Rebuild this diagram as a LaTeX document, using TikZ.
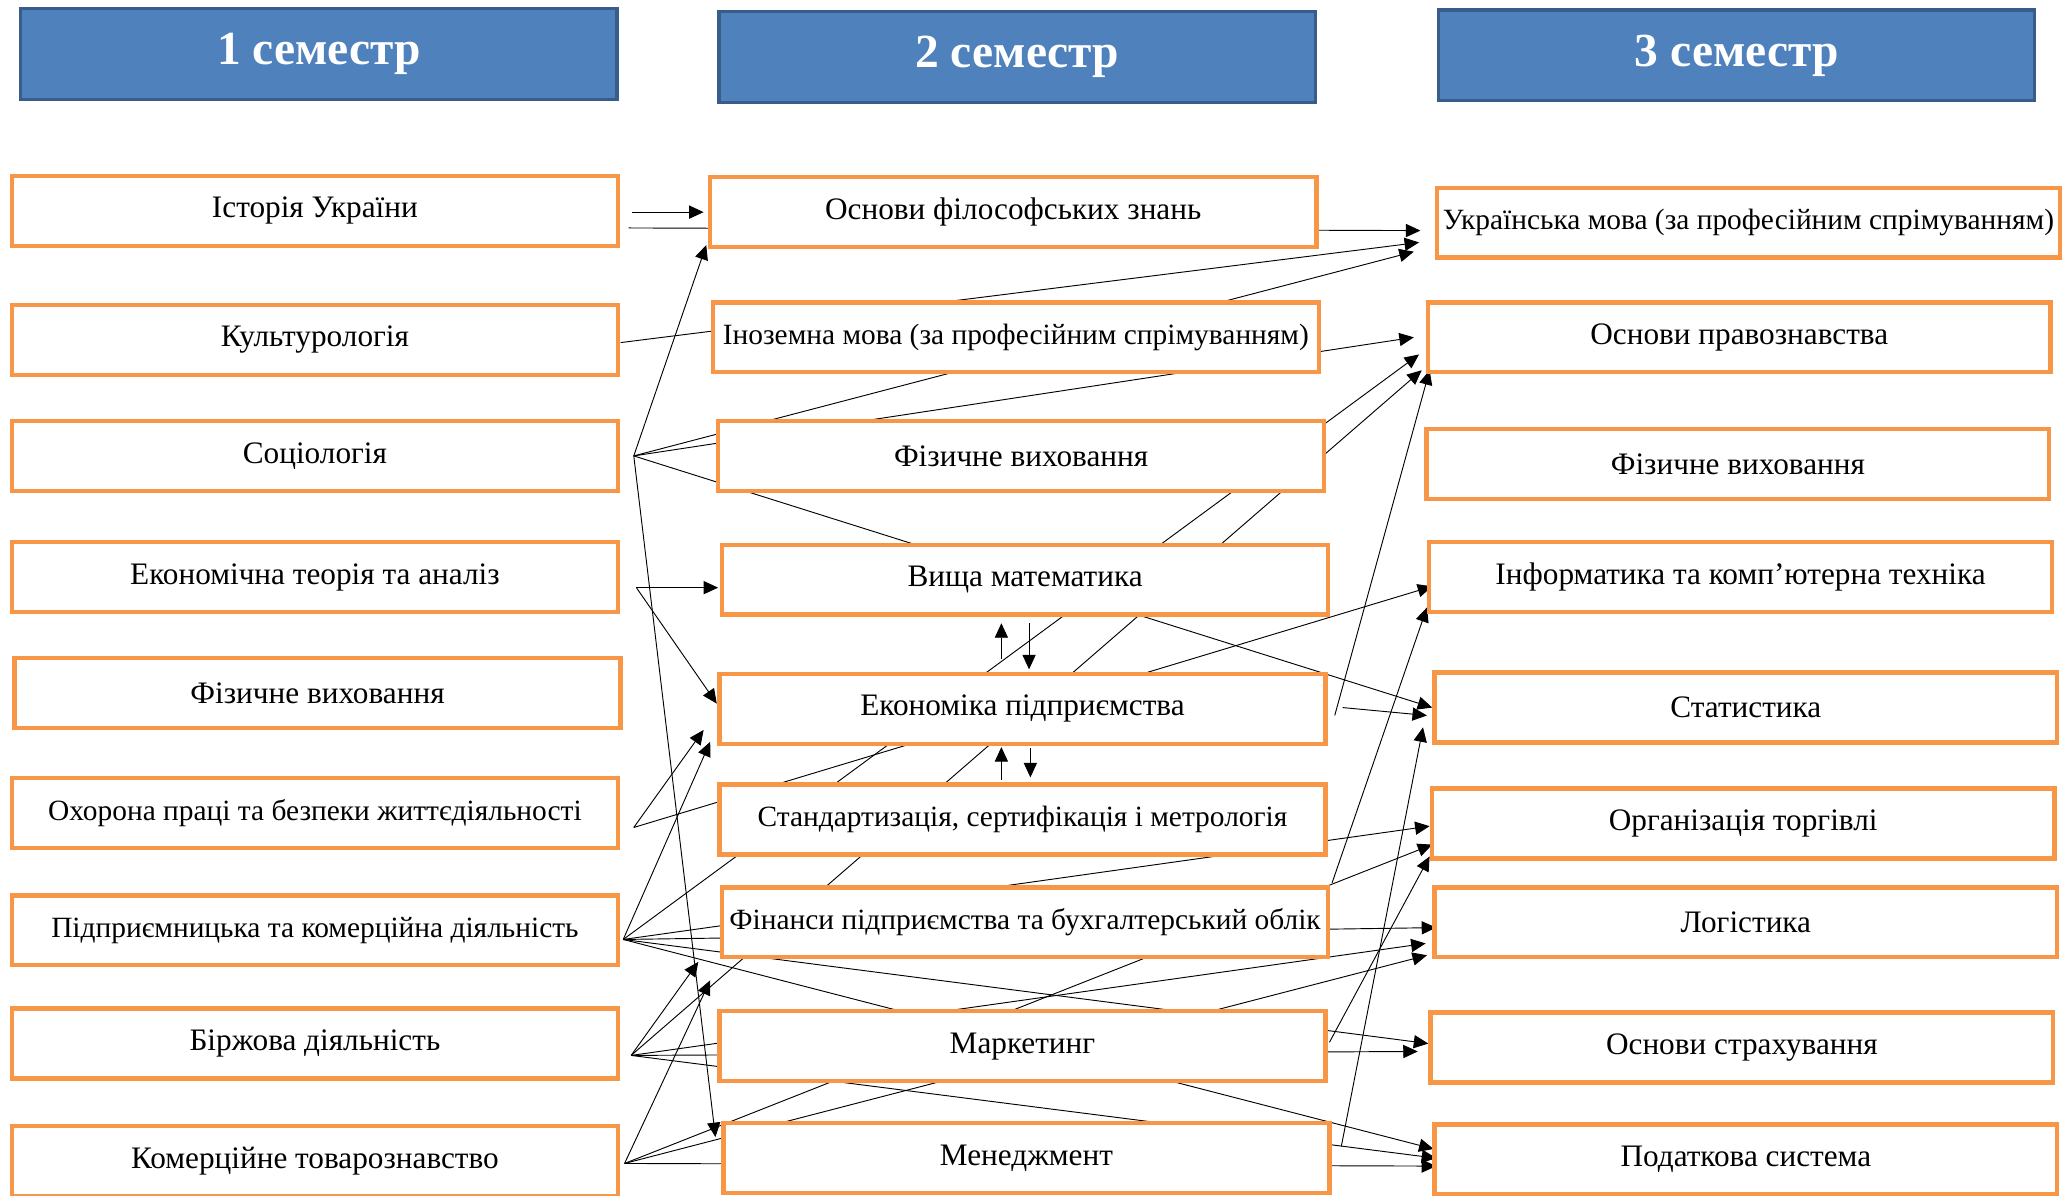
\documentclass[tikz,border=0pt]{standalone}
\usepackage{fontspec}
\setmainfont{Liberation Serif}
\usetikzlibrary{arrows.meta,backgrounds}
\definecolor{boxOrange}{RGB}{247,150,70}
\definecolor{headBlue}{RGB}{79,129,189}
\definecolor{headEdge}{RGB}{56,93,138}
\tikzset{
    >={Triangle[length=2.2mm,width=2mm]},
    subj/.style={draw=boxOrange,line width=1.9pt,fill=white,minimum width=9.2cm,minimum height=1.06cm,inner sep=0pt,font=\fontsize{13.5}{16}\selectfont},
    wide/.style={subj,minimum width=9.45cm},
    long/.style={font=\fontsize{12.7}{15}\selectfont},
    sem/.style={draw=headEdge,line width=1.4pt,fill=headBlue,minimum width=9.05cm,minimum height=1.38cm,text=white,font=\fontsize{20.5}{24}\selectfont\bfseries},
    link/.style={line width=0.85pt}
}

\begin{document}
\begin{tikzpicture}[x=0.2mm,y=-0.2mm]
  \useasboundingbox (0,0) rectangle (1568,907);

  % headers
  \node[sem] (s1) at (242,41) {1 семестр};
  \node[sem] (s2) at (772,43) {2 семестр};
  \node[sem] (s3) at (1318,42) {3 семестр};

  % 1st semester
  \node[subj] (hist)   at (239,160)  {Історія України};
  \node[subj] (cult)   at (239,258)  {Культурологія};
  \node[subj] (soc)    at (239,346)  {Соціологія};
  \node[subj] (econth) at (239,438)  {Економічна теорія та аналіз};
  \node[subj] (pe1)    at (241,526)  {Фізичне виховання};
  \node[subj,long] (safety) at (239,617)  {Охорона праці та безпеки життєдіяльності};
  \node[subj,long] (entre)  at (239,706)  {Підприємницька та комерційна діяльність};
  \node[subj] (exch)   at (239,792)  {Біржова діяльність};
  \node[subj] (goods)  at (239,881)  {Комерційне товарознавство};

  % 2nd semester
  \node[subj] (phil)  at (769,161)  {Основи філософських знань};
  \node[subj,long] (lang2) at (771,256)  {Іноземна мова (за професійним спрімуванням)};
  \node[subj] (pe2)   at (775,346)  {Фізичне виховання};
  \node[subj] (math)  at (778,440)  {Вища математика};
  \node[subj] (econ)  at (776,538)  {Економіка підприємства};
  \node[subj,long] (std)   at (776,622)  {Стандартизація, сертифікація і метрологія};
  \node[subj,long] (fin)   at (778,700)  {Фінанси підприємства та бухгалтерський облік};
  \node[subj] (mkt)   at (776,794)  {Маркетинг};
  \node[subj] (mgmt)  at (779,879)  {Менеджмент};

  % 3rd semester
  \node[wide,long] (lang3) at (1327,169) {Українська мова (за професійним спрімуванням)};
  \node[wide] (law)   at (1320,256) {Основи правознавства};
  \node[wide] (pe3)   at (1319,352) {Фізичне виховання};
  \node[wide] (info)  at (1321,438) {Інформатика та комп’ютерна техніка};
  \node[wide] (stat)  at (1325,537) {Статистика};
  \node[wide] (trade) at (1323,625) {Організація торгівлі};
  \node[wide] (logi)  at (1325,700) {Логістика};
  \node[wide] (ins)   at (1322,795) {Основи страхування};
  \node[wide] (tax)   at (1325,880) {Податкова система};

  % line ends
  \coordinate (hist-a) at (480,161);
  \coordinate (hist-b) at (477,173);
  \coordinate (cult-o) at (471,260);
  \coordinate (soc-o) at (481,346);
  \coordinate (econth-o) at (483,446);
  \coordinate (safety-o) at (481,628);
  \coordinate (entre-o) at (473,713);
  \coordinate (exch-o) at (479,801);
  \coordinate (goods-o) at (474,883);
  \coordinate (econ-o1) at (1013,543);
  \coordinate (econ-o2) at (1019,537);
  \coordinate (fin-o) at (1011,670);
  \coordinate (mkt-o) at (1009,791);
  \coordinate (mgmt-o) at (1018,870);

  \coordinate (phil-i1) at (534,161);
  \coordinate (phil-i2) at (536,186);
  \coordinate (math-i) at (545,446);
  \coordinate (econ-i1) at (544,534);
  \coordinate (econ-i2) at (534,554);
  \coordinate (econ-i3) at (539,563);
  \coordinate (fin-i1) at (530,730);
  \coordinate (fin-i2) at (539,744);
  \coordinate (mgmt-i) at (543,863);

  \coordinate (lang3-i1) at (1078,175);
  \coordinate (lang3-i2) at (1077,184);
  \coordinate (lang3-i3) at (1073,191);
  \coordinate (law-i1) at (1073,256);
  \coordinate (law-i2) at (1077,269);
  \coordinate (law-i3) at (1079,281);
  \coordinate (law-i4) at (1085,281);
  \coordinate (info-i1) at (1087,445);
  \coordinate (info-i2) at (1083,461);
  \coordinate (stat-i1) at (1087,537);
  \coordinate (stat-i2) at (1083,543);
  \coordinate (stat-i3) at (1080,552);
  \coordinate (trade-i1) at (1085,627);
  \coordinate (trade-i2) at (1087,641);
  \coordinate (trade-i3) at (1085,650);
  \coordinate (logi-i1) at (1090,704);
  \coordinate (logi-i2) at (1082,716);
  \coordinate (logi-i3) at (1083,725);
  \coordinate (ins-i1) at (1084,792);
  \coordinate (ins-i2) at (1076,798);
  \coordinate (tax-i1) at (1088,872);
  \coordinate (tax-i2) at (1090,879);
  \coordinate (tax-i3) at (1090,885);

  \coordinate (up1a) at (760,500);  \coordinate (up1b) at (760,473);
  \coordinate (dn1a) at (781,473);  \coordinate (dn1b) at (781,508);
  \coordinate (up2a) at (760,592);  \coordinate (up2b) at (760,567);
  \coordinate (dn2a) at (782,568);  \coordinate (dn2b) at (782,590);

  \begin{scope}[on background layer,link]
    % into 2nd semester
    \draw[->] (hist-a) -- (phil-i1);
    \draw[->] (soc-o) -- (phil-i2);
    \draw[->] (soc-o) -- (mgmt-i);
    \draw[->] (econth-o) -- (math-i);
    \draw[->] (econth-o) -- (econ-i1);
    \draw[->] (safety-o) -- (econ-i2);
    \draw[->] (entre-o) -- (econ-i3);
    \draw[->] (exch-o) -- (fin-i1);
    \draw[->] (goods-o) -- (fin-i2);
    \draw[->] (up1a) -- (up1b);
    \draw[->] (dn1a) -- (dn1b);
    \draw[->] (up2a) -- (up2b);
    \draw[->] (dn2a) -- (dn2b);

    % into 3rd semester
    \draw[->] (hist-b) -- (lang3-i1);
    \draw[->] (cult-o) -- (lang3-i2);
    \draw[->] (soc-o) -- (lang3-i3);
    \draw[->] (soc-o) -- (law-i1);
    \draw[->] (entre-o) -- (law-i2);
    \draw[->] (exch-o) -- (law-i3);
    \draw[->] (econ-o1) -- (law-i4);
    \draw[->] (safety-o) -- (info-i1);
    \draw[->] (fin-o) -- (info-i2);
    \draw[->] (soc-o) -- (stat-i1);
    \draw[->] (econ-o2) -- (stat-i2);
    \draw[->] (mgmt-o) -- (stat-i3);
    \draw[->] (entre-o) -- (trade-i1);
    \draw[->] (goods-o) -- (trade-i2);
    \draw[->] (mkt-o) -- (trade-i3);
    \draw[->] (entre-o) -- (logi-i1);
    \draw[->] (exch-o) -- (logi-i2);
    \draw[->] (goods-o) -- (logi-i3);
    \draw[->] (entre-o) -- (ins-i1);
    \draw[->] (exch-o) -- (ins-i2);
    \draw[->] (entre-o) -- (tax-i1);
    \draw[->] (exch-o) -- (tax-i2);
    \draw[->] (goods-o) -- (tax-i3);
  \end{scope}
\end{tikzpicture}
\end{document}
